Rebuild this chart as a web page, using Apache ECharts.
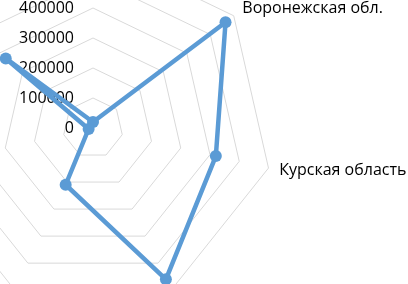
<!DOCTYPE html>
<html>
<head>
<meta charset="utf-8">
<script src="https://cdn.jsdelivr.net/npm/echarts@6/dist/echarts.min.js"></script>
<style>
html,body{margin:0;padding:0;background:#fff;}
#chart{width:408px;height:284px;}
</style>
</head>
<body>
<div id="chart"></div>
<script>
// Categories in clockwise order from the top; only two names are visible in the cropped reference
const categories = ['', 'Воронежская обл.', 'Курская область', '', '', '', ''];
const values = [20000, 565000, 420000, 560000, 210000, 15000, 372000];
const axisMax = 600000;
const tickLabels = ['0', '100000', '200000', '300000', '400000', '500000', '600000'];

// ECharts lays radar indicators counter-clockwise; reorder so they run clockwise
const order = [0].concat(categories.map(function (_, i) { return i; }).slice(1).reverse());

const chart = echarts.init(document.getElementById('chart'), null, {renderer: 'canvas'});
const option = {
  animation: false,
  radar: {
    center: [93, 128],
    radius: 180,
    startAngle: 90,
    splitNumber: 6,
    shape: 'polygon',
    nameGap: 11,
    axisName: {
      color: '#000',
      fontSize: 16,
      fontFamily: 'Open Sans'
    },
    splitLine: {lineStyle: {color: '#d9d9d9', width: 1}},
    splitArea: {show: false},
    axisLine: {show: false},
    axisTick: {show: false},
    axisLabel: {
      show: true,
      color: '#000',
      fontSize: 16,
      fontFamily: 'Open Sans',
      margin: 19,
      formatter: function (v) { return tickLabels[Math.round(v / 100000)] || String(v); }
    },
    indicator: order.map(function (i, k) {
      const ind = {name: categories[i], max: axisMax, min: 0};
      if (k !== 0) ind.axisLabel = {show: false};
      return ind;
    })
  },
  series: [{
    type: 'radar',
    symbol: 'circle',
    symbolSize: 12,
    lineStyle: {color: '#5b9bd5', width: 4.5},
    itemStyle: {color: '#5b9bd5'},
    data: [{value: order.map(function (i) { return values[i]; })}]
  }]
};
chart.setOption(option);
</script>
</body>
</html>
